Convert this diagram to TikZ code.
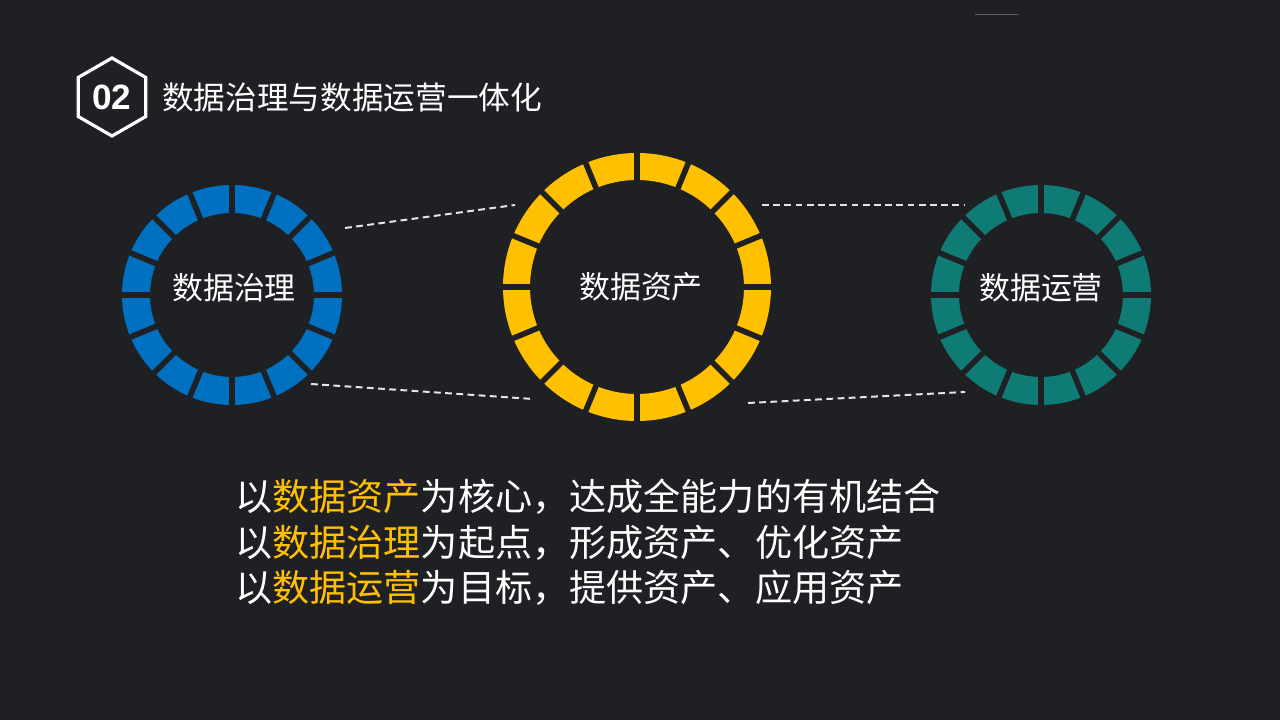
\documentclass[tikz,border=0pt]{standalone}
\usepackage{fontspec}
\newfontfamily\cjk{Noto Sans CJK SC}
\newfontfamily\numfont{Liberation Sans}
\usepackage{xcolor}
\usetikzlibrary{shapes.geometric}
\definecolor{bgdark}{RGB}{31,32,36}
\definecolor{govblue}{HTML}{0070C0}
\definecolor{assetgold}{HTML}{FFC000}
\definecolor{opsteal}{RGB}{14,124,116}
\def\px{0.025cm}
% segmented ring: centre x, centre y, outer r, inner r, colour
\newcommand{\dataring}[5]{%
  \fill[#5,even odd rule] (#1,#2) circle[radius=#3] (#1,#2) circle[radius=#4];
  \foreach \a in {0,22.5,...,337.5}
    \draw[gap,shift={(#1,#2)}] (\a:#4-4) -- (\a:#3+4);
}

\begin{document}
\begin{tikzpicture}[x=\px,y=-\px,font=\cjk]
\tikzstyle{gap}=[draw=bgdark,line width=0.14cm]
\tikzstyle{lbl}=[text=white,font=\cjk\fontsize{22}{26}\selectfont]
\tikzstyle{say}=[anchor=west,text=white,inner sep=0pt,font=\cjk\fontsize{26.4}{30}\selectfont]
\tikzstyle{link}=[draw=white!90!black,line width=0.05cm,dash pattern=on 0.17cm off 0.11cm]
\fill[bgdark] (0,0) rectangle (1280,720);
\useasboundingbox (0,0) rectangle (1280,720);
\draw[bgdark!70!white,line width=0.025cm] (975,15) -- (1018,15);
% heading
\node[regular polygon,regular polygon sides=6,shape border rotate=30,draw=white,line width=0.08cm,
  minimum size=78*\px,inner sep=0pt,text=white,font=\numfont\bfseries\fontsize{25}{28}\selectfont] (badge) at (112,97) {02};
\node[anchor=west,text=white,inner sep=0pt,font=\cjk\fontsize{22.5}{26}\selectfont] (title) at (162,98) {数据治理与数据运营一体化};
% rings
\dataring{232}{295}{110}{82}{govblue}
\dataring{637}{287}{134}{107}{assetgold}
\dataring{1041}{295}{110}{82}{opsteal}
\node[lbl] (gov) at (234,288) {数据治理};
\node[lbl] (asset) at (641,287) {数据资产};
\node[lbl] (ops) at (1041,288) {数据运营};
% dashed links
\coordinate (govup) at (345,228);
\coordinate (govdown) at (311,384);
\coordinate (assetul) at (515,205);
\coordinate (assetll) at (533,399);
\coordinate (assetur) at (762,205);
\coordinate (assetlr) at (748,403);
\coordinate (opsup) at (965,205);
\coordinate (opsdown) at (965,392);
\draw[link] (govup) -- (assetul);
\draw[link] (govdown) -- (assetll);
\draw[link] (assetur) -- (opsup);
\draw[link] (assetlr) -- (opsdown);
% statements
\node[say] (line1) at (235,497) {以\textcolor{assetgold}{数据资产}为核心，达成全能力的有机结合};
\node[say] (line2) at (235,543) {以\textcolor{assetgold}{数据治理}为起点，形成资产、优化资产};
\node[say] (line3) at (235,588) {以\textcolor{assetgold}{数据运营}为目标，提供资产、应用资产};
\end{tikzpicture}
\end{document}
